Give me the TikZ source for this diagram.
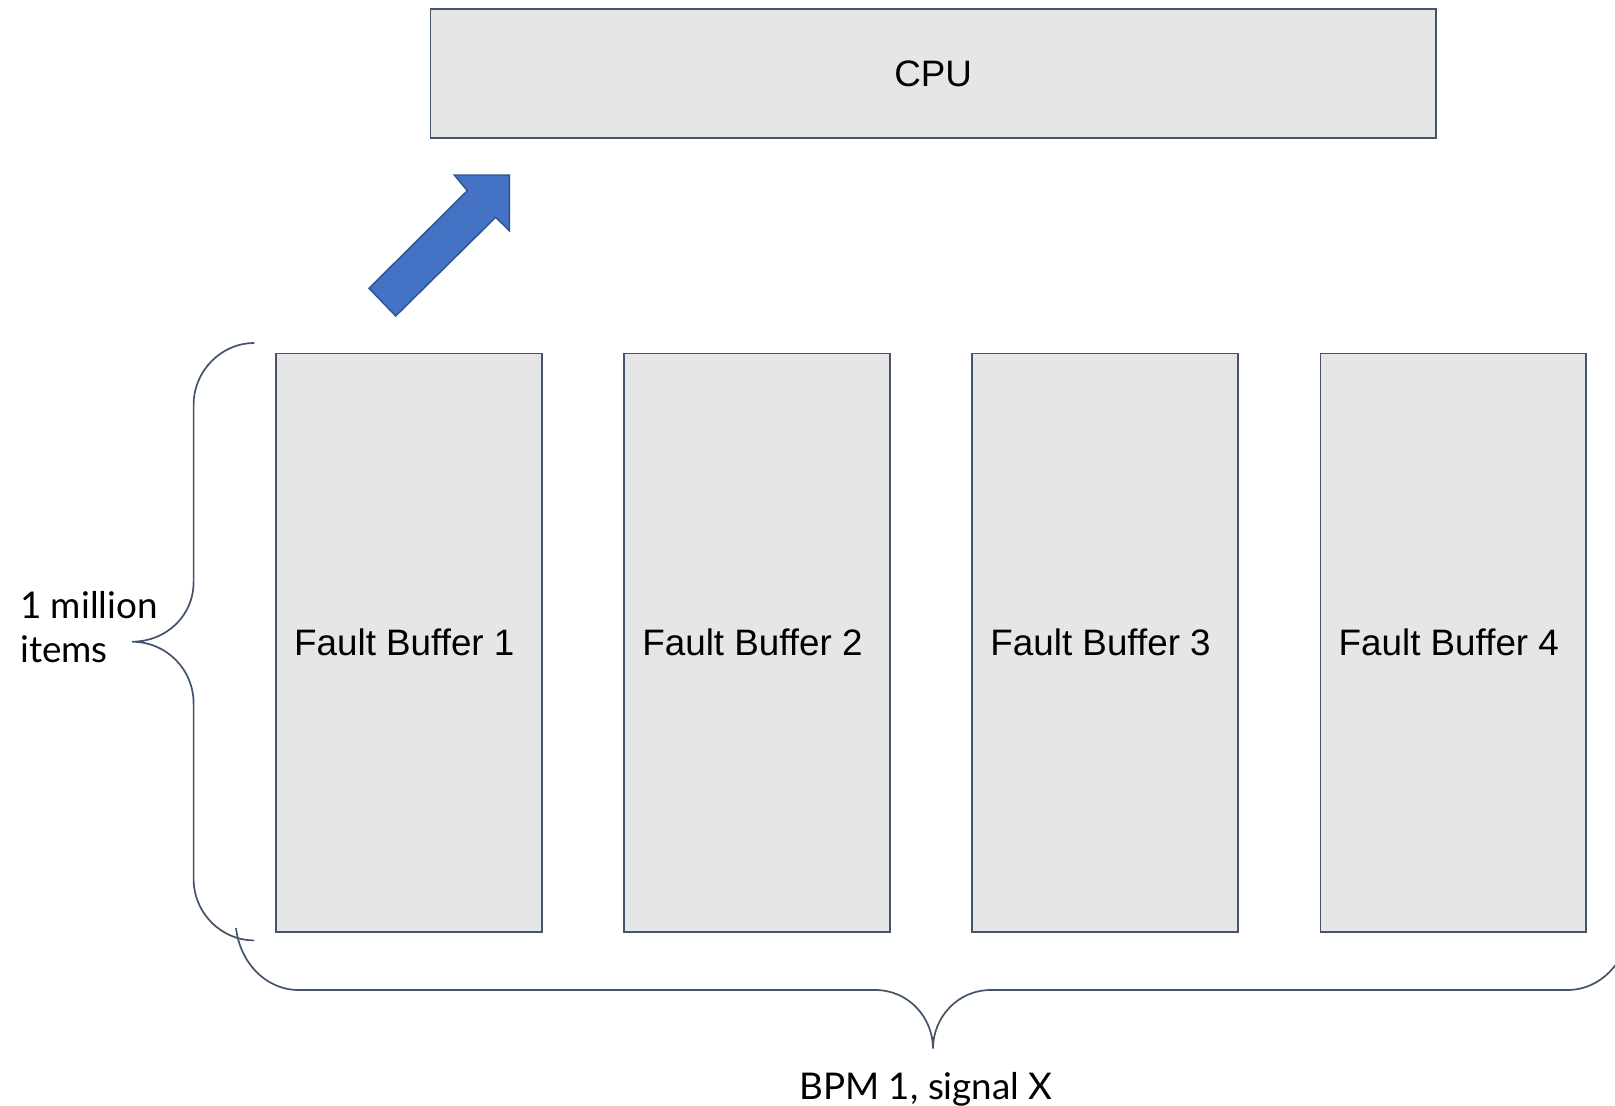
\documentclass[tikz,border=0pt]{standalone}
\usepackage{fontspec}
\setmainfont{Liberation Sans}
\newfontfamily\latofont{Lato}
\definecolor{edgegray}{RGB}{68,84,106}
\definecolor{boxfill}{RGB}{230,230,230}
\definecolor{arrowfill}{RGB}{68,114,196}
\definecolor{arrowedge}{RGB}{47,82,143}
\newcommand{\myleftnudge}{\hspace*{-9.2pt}}
\begin{document}
\begin{tikzpicture}[x=1pt,y=-1pt,
  box/.style={draw=edgegray, fill=boxfill, line width=1.7pt, inner sep=0pt,
    font=\fontsize{36.8}{44}\selectfont},
  bufbox/.style={box, minimum width=265.8pt, minimum height=578.7pt},
  bracepath/.style={draw=edgegray, line width=1.7pt},
  lbl/.style={inner sep=0pt, font=\latofont\fontsize{36.8}{44.3}\selectfont},
  blockarrow/.style={fill=arrowfill, draw=arrowedge, line width=1.4pt, line join=miter}]
\clip (0,0) rectangle (1615,1106);
\fill[white] (0,0) rectangle (1615,1106);
\node[box, minimum width=1005.3pt, minimum height=128.7pt] (cpu) at (933.1,73.6) {CPU};
\node[bufbox] (fb1) at (408.9,642.7) {\myleftnudge Fault Buffer 1};
\node[bufbox] (fb2) at (757.1,642.7) {\myleftnudge Fault Buffer 2};
\node[bufbox] (fb3) at (1105.2,642.7) {\myleftnudge Fault Buffer 3};
\node[bufbox] (fb4) at (1453.4,642.7) {\myleftnudge Fault Buffer 4};
\draw[blockarrow] (509.3,175) -- (454.3,175) -- (467.3,190.7) -- (369,288.3) -- (395.7,316)
  -- (495.7,217.3) -- (509.3,230.7) -- cycle;
\coordinate (lbtop) at (254.4,343);
\coordinate (lbtip) at (131.8,641.7);
\coordinate (lbbot) at (254.4,940.4);
\draw[bracepath] (lbtop) .. controls (221,343) and (193.6,371) .. (193.6,405) -- (193.6,582)
  .. controls (193.6,616) and (166,641.7) .. (lbtip)
  .. controls (166,641.7) and (193.6,669) .. (193.6,703.5) -- (193.6,878.6)
  .. controls (193.6,913) and (221,940.4) .. (lbbot);
\coordinate (bbleft) at (236,928);
\coordinate (bbtip) at (933,1048.5);
\coordinate (bbright) at (1630,928);
\draw[bracepath] (bbleft) .. controls (240,962) and (265,990) .. (299,990) -- (875,990)
  .. controls (909,990) and (933,1018) .. (bbtip)
  .. controls (933,1018) and (957,990) .. (991,990) -- (1567,990)
  .. controls (1601,990) and (1626,962) .. (bbright);
\node[lbl, anchor=west, align=left] (items) at (20,627) {1 million\\items};
\node[lbl, anchor=base] (bpm) at (926,1099) {BPM 1, signal X};
\end{tikzpicture}
\end{document}
